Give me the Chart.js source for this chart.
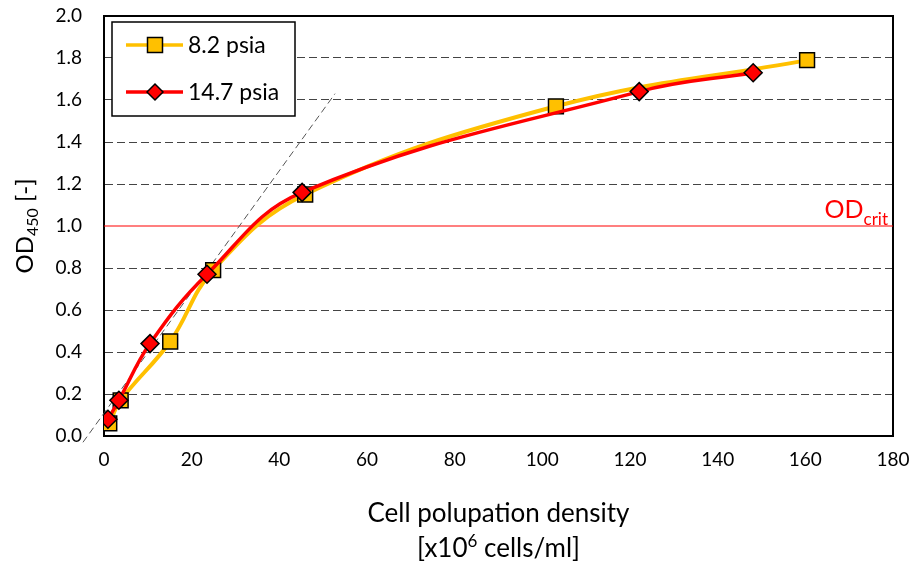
<!DOCTYPE html>
<html>
<head>
<meta charset="utf-8">
<script src="https://cdn.jsdelivr.net/npm/chart.js@4.4.1/dist/chart.umd.min.js"></script>
<style>
  html, body { margin: 0; padding: 0; background: #fff; }
  #wrap { width: 915px; height: 562px; }
</style>
</head>
<body>
<div id="wrap"><canvas id="chart" width="915" height="562"></canvas></div>
<script>
// 8.2 psia series (squares)
const lowX = [1.2, 3.8, 15.1, 24.9, 45.9, 103.1, 160.4]
const lowY = [0.06, 0.17, 0.45, 0.79, 1.15, 1.57, 1.79]
// 14.7 psia series (diamonds)
const atmX = [0.9, 3.4, 10.5, 23.5, 45.2, 122.1, 148.1]
const atmY = [0.08, 0.17, 0.44, 0.77, 1.16, 1.64, 1.73]
// dashed linear-range guide
const guideX = [-4.8, 52.7]
const guideY = [-0.03, 1.63]
// critical OD level
const odCrit = 1.0
const critX = [0, 180]

const xMin = 0, xMax = 180, xStep = 20
const yMin = 0, yMax = 2.0, yStep = 0.2

const FONT = 'Lato, "Open Sans", sans-serif'
const YELLOW = '#FFC000'
const RED = '#FF0000'

const pts = (xs, ys) => xs.map((x, i) => ({ x: x, y: ys[i] }))

// legend, plot frame, axis titles and the OD_crit label
const decor = {
  id: 'decor',
  beforeDatasetsDraw(chart) {
    const { ctx, chartArea: a } = chart
    ctx.save()
    ctx.strokeStyle = '#000'
    ctx.lineWidth = 2
    ctx.strokeRect(a.left, a.top, a.right - a.left, a.bottom - a.top)
    ctx.restore()
  },
  afterDraw(chart) {
    const { ctx, chartArea: a, scales } = chart
    ctx.save()
    ctx.fillStyle = '#000'
    ctx.textBaseline = 'alphabetic'

    // x title
    const cx = (a.left + a.right) / 2
    ctx.textAlign = 'center'
    ctx.font = '26px ' + FONT
    ctx.fillText('Cell polupation density', cx, 522)
    const p1 = '[x10', sup = '6', p2 = ' cells/ml]'
    const w1 = ctx.measureText(p1).width, w3 = ctx.measureText(p2).width
    ctx.font = '17px ' + FONT
    const w2 = ctx.measureText(sup).width
    let sx = cx - (w1 + w2 + w3) / 2
    ctx.textAlign = 'left'
    ctx.font = '26px ' + FONT
    ctx.fillText(p1, sx, 557)
    ctx.font = '17px ' + FONT
    ctx.fillText(sup, sx + w1, 547)
    ctx.font = '26px ' + FONT
    ctx.fillText(p2, sx + w1 + w2, 557)

    // y title (rotated)
    ctx.save()
    ctx.translate(33, (a.top + a.bottom) / 2)
    ctx.rotate(-Math.PI / 2)
    ctx.font = '24px ' + FONT
    const o1 = ctx.measureText('OD').width, o3 = ctx.measureText(' [-]').width
    ctx.font = '16px ' + FONT
    const o2 = ctx.measureText('450').width
    let ox = -(o1 + o2 + o3) / 2
    ctx.font = '24px ' + FONT
    ctx.fillText('OD', ox, 0)
    ctx.font = '16px ' + FONT
    ctx.fillText('450', ox + o1, 5)
    ctx.font = '24px ' + FONT
    ctx.fillText(' [-]', ox + o1 + o2, 0)
    ctx.restore()

    // OD_crit label
    const yc = scales.y.getPixelForValue(odCrit)
    ctx.fillStyle = RED
    ctx.font = '17px ' + FONT
    const cw = ctx.measureText('crit').width
    ctx.textAlign = 'right'
    ctx.fillText('crit', a.right - 5, yc - 1)
    ctx.font = '25px ' + FONT
    ctx.fillText('OD', a.right - 5 - cw, yc - 8)

    // legend
    const lx = 112, ly = 22, lw = 183, lh = 94
    ctx.fillStyle = '#fff'
    ctx.fillRect(lx, ly, lw, lh)
    ctx.strokeStyle = '#000'
    ctx.lineWidth = 1.5
    ctx.strokeRect(lx, ly, lw, lh)
    const items = [
      { label: '8.2 psia', color: YELLOW, shape: 'square', y: ly + 23 },
      { label: '14.7 psia', color: RED, shape: 'diamond', y: ly + 70 }
    ]
    items.forEach(it => {
      ctx.strokeStyle = it.color
      ctx.lineWidth = 3.5
      ctx.beginPath()
      ctx.moveTo(126, it.y)
      ctx.lineTo(183, it.y)
      ctx.stroke()
      ctx.fillStyle = it.color
      ctx.strokeStyle = '#000'
      ctx.lineWidth = 1.5
      ctx.beginPath()
      if (it.shape === 'square') {
        ctx.rect(155 - 7.5, it.y - 7.5, 15, 15)
      } else {
        ctx.moveTo(155 - 8, it.y)
        ctx.lineTo(155, it.y - 8)
        ctx.lineTo(155 + 8, it.y)
        ctx.lineTo(155, it.y + 8)
        ctx.closePath()
      }
      ctx.fill()
      ctx.stroke()
      ctx.fillStyle = '#000'
      ctx.textAlign = 'left'
      ctx.textBaseline = 'middle'
      ctx.font = '23px ' + FONT
      ctx.fillText(it.label, 188, it.y + 1)
    })
    ctx.restore()
  }
}

new Chart(document.getElementById('chart'), {
  type: 'scatter',
  data: {
    datasets: [
      {
        label: '14.7 psia',
        data: pts(atmX, atmY),
        showLine: true,
        borderColor: RED,
        backgroundColor: RED,
        borderWidth: 3.5,
        tension: 0.4,
        pointStyle: 'rectRot',
        pointRadius: 9,
        pointBorderColor: '#000',
        pointBorderWidth: 1.5,
        order: 0,
      },
      {
        label: '8.2 psia',
        data: pts(lowX, lowY),
        showLine: true,
        borderColor: YELLOW,
        backgroundColor: YELLOW,
        borderWidth: 4,
        tension: 0.4,
        pointStyle: 'rect',
        pointRadius: 10.5,
        pointBorderColor: '#000',
        pointBorderWidth: 1.5,
        order: 1,
      },
      {
        label: 'guide',
        data: pts(guideX, guideY),
        showLine: true,
        borderColor: '#555',
        borderWidth: 1,
        borderDash: [7, 4],
        pointRadius: 0,
        clip: false,
        order: 2,
      },
      {
        label: 'crit',
        data: critX.map(x => ({ x: x, y: odCrit })),
        showLine: true,
        borderColor: RED,
        backgroundColor: RED,
        borderWidth: 1.2,
        pointRadius: 0,
        order: 3,
      },
    ],
  },
  options: {
    responsive: false,
    animation: false,
    events: [],
    layout: { autoPadding: false, padding: { left: 0, right: 22, top: 16, bottom: 0 } },
    plugins: {
      legend: { display: false },
      tooltip: { enabled: false },
    },
    scales: {
      x: {
        type: 'linear',
        min: xMin,
        max: xMax,
        ticks: {
          stepSize: xStep,
          color: '#000',
          font: { family: FONT, size: 19 },
          padding: 12,
        },
        grid: { display: false, drawTicks: false },
        border: { display: true, color: '#000', width: 2 },
        afterFit(s) {
          s.height = 126
          s.paddingLeft = 0
          s.paddingRight = 0
        },
      },
      y: {
        type: 'linear',
        min: yMin,
        max: yMax,
        ticks: {
          stepSize: yStep,
          color: '#000',
          font: { family: FONT, size: 19 },
          padding: 22,
          callback: v => v.toFixed(1),
        },
        grid: {
          drawTicks: false,
          color: c => {
            const v = Math.round(c.tick.value * 10) / 10
            return (v === 0 || v === 2 || v === odCrit) ? 'rgba(0,0,0,0)' : '#444'
          },
          lineWidth: 1,
        },
        border: { display: true, color: '#000', width: 2, dash: [8, 4] },
        afterFit(s) {
          s.width = 104
          s.paddingTop = 0
          s.paddingBottom = 0
        },
      },
    },
  },
  plugins: [decor],
})
</script>
</body>
</html>
